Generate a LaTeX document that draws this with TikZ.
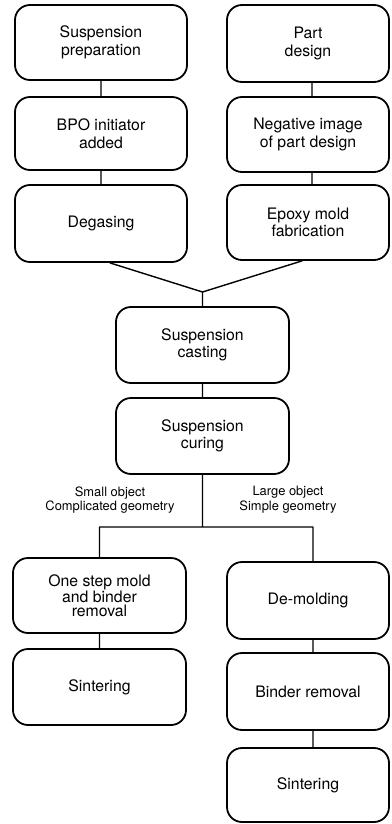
\documentclass[tikz,border=0pt]{standalone}
\usepackage{fontspec}
\setmainfont{TeX Gyre Heros}

\begin{document}
\begin{tikzpicture}[x=1pt,y=-1pt,line cap=round,line join=round,
    stepbox/.style={draw,line width=1.8pt,rounded corners=15pt,align=center,
        inner sep=0pt,font=\fontsize{15.8}{17.5}\selectfont},
    leftbox/.style={stepbox,minimum width=172pt},
    rightbox/.style={stepbox,minimum width=162pt},
    link/.style={line width=1.4pt},
    note/.style={align=center,font=\fontsize{12.9}{14.7}\selectfont}]
        \useasboundingbox (0,0) rectangle (391,824);
        % left column
        \node[leftbox,minimum height=75pt] (prep) at (101,42.5) {Suspension\\preparation};
        \node[leftbox,minimum height=73pt] (bpo) at (101,133.5) {BPO initiator\\added};
        \node[leftbox,minimum height=77pt] (degas) at (101,223.5) {Degasing};
        % right column
        \node[rightbox,minimum height=77pt] (part) at (308,43.5) {Part\\design};
        \node[rightbox,minimum height=75pt] (neg) at (308,134.5) {Negative image\\of part design};
        \node[rightbox,minimum height=75pt] (epoxy) at (308,222.5) {Epoxy mold\\fabrication};
        % middle
        \coordinate (join) at (202.5,292);
        \node[stepbox,minimum width=173pt,minimum height=76pt] (cast) at (202.5,345) {Suspension\\casting};
        \node[stepbox,minimum width=173pt,minimum height=76pt] (cure) at (202.5,436) {Suspension\\curing};
        \coordinate (split) at (202.5,527);
        \node[note] (small) at (110,500) {Small object\\Complicated geometry};
        \node[note] (large) at (288,500) {Large object\\Simple geometry};
        % branches
        \node[leftbox,minimum width=173pt,minimum height=75pt,
              font=\fontsize{15.8}{14.5}\selectfont] (onestep) at (99.5,595.5) {One step mold\\and binder\\removal};
        \node[leftbox,minimum width=173pt,minimum height=76pt] (sinterl) at (99.5,687) {Sintering};
        \node[rightbox,minimum height=77pt] (demold) at (308,600.5) {De-molding};
        \node[rightbox,minimum height=77pt] (binder) at (308,691.5) {Binder removal};
        \node[rightbox,minimum height=74pt] (sinterr) at (308,785) {Sintering};

        \draw[link] (prep) -- (bpo) (bpo) -- (degas)
              ([xshift=4pt]part.south) -- ([xshift=4pt]neg.north)
              ([xshift=4pt]neg.south) -- ([xshift=4pt]epoxy.north)
              ([xshift=9pt]degas.south) -- (join) -- ([xshift=-6pt]epoxy.south)
              (join) -- (cast) (cast) -- (cure)
              (cure) -- (split)
              (onestep.north |- split) -- ([xshift=5pt]demold.north |- split)
              (onestep.north |- split) -- (onestep.north)
              ([xshift=5pt]demold.north |- split) -- ([xshift=5pt]demold.north)
              (onestep) -- (sinterl)
              ([xshift=5pt]demold.south) -- ([xshift=5pt]binder.north)
              ([xshift=5pt]binder.south) -- ([xshift=5pt]sinterr.north);
    \end{tikzpicture}
\end{document}
